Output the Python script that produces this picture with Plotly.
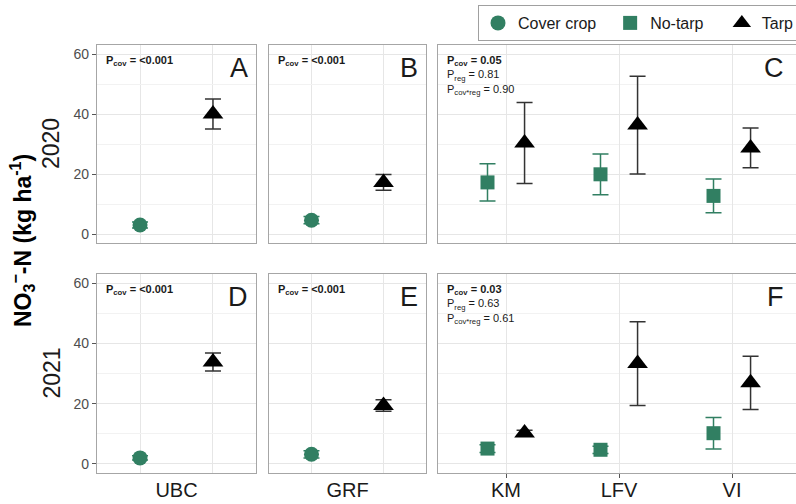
import plotly.graph_objects as go

# ---------------- data ----------------
single_sites = ["UBC", "GRF"]
regional_sites = ["KM", "LFV", "VI"]
years = ["2020", "2021"]
legend_names = ["Cover crop", "No-tarp", "Tarp"]

cover_2020 = [3.0, 4.6]
cover_2020_err = [1.0, 1.2]
tarp_single_2020 = [40.0, 17.2]
tarp_single_2020_err = [5.0, 2.6]

cover_2021 = [2.0, 3.2]
cover_2021_err = [0.7, 1.2]
tarp_single_2021 = [33.8, 19.4]
tarp_single_2021_err = [3.0, 1.9]

notarp_2020 = [17.2, 19.9, 12.7]
notarp_2020_err = [6.2, 6.8, 5.6]
tarp_reg_2020 = [30.3, 36.3, 28.7]
tarp_reg_2020_err = [13.5, 16.3, 6.6]

notarp_2021 = [5.1, 4.7, 10.2]
notarp_2021_err = [1.3, 1.2, 5.2]
tarp_reg_2021 = [10.3, 33.3, 26.9]
tarp_reg_2021_err = [0.9, 13.9, 8.8]

pvals_single = ["<b>P<sub>cov</sub> = &lt;0.001</b>"] * 4
pvals_regional = [
    "<b>P<sub>cov</sub> = 0.05</b><br>P<sub>reg</sub> = 0.81<br>P<sub>cov*reg</sub> = 0.90",
    "<b>P<sub>cov</sub> = 0.03</b><br>P<sub>reg</sub> = 0.63<br>P<sub>cov*reg</sub> = 0.61",
]
panel_letters = ["A", "B", "C", "D", "E", "F"]

# ---------------- style ----------------
GREEN = "#317f62"
TARP = "#000000"
TARP_ERR = "#333333"
FONT = "Liberation Sans, Arial, sans-serif"
W, H = 796, 504

def px(x):
    return x / W

def py(y):
    return 1 - y / H

# panel pixel boxes
xdom = [(97, 256), (269, 426), (438, 796)]
ydom = [(45, 243), (274, 473)]

# legend label padding (non-breaking spaces to widen entries)
legend_pad = {"Cover crop": "&nbsp;&nbsp;", "No-tarp": "&nbsp;&nbsp;&nbsp;", "Tarp": ""}

fig = go.Figure()

DODGE = 0.164

def add_err_trace(xref, yref, xs, ys, errs, name, symbol, color, errcolor, size, show):
    fig.add_trace(go.Scatter(
        x=xs, y=ys, mode="markers", name=name + legend_pad[name], legendgroup=name,
        showlegend=show, xaxis=xref, yaxis=yref,
        legendrank=legend_names.index(name) + 1,
        marker=dict(symbol=symbol, color=color, size=size, line=dict(width=0)),
        error_y=dict(type="data", array=errs, color=errcolor, thickness=1.5, width=8),
        hovertemplate=name + ": %{y}<extra></extra>",
    ))

axis_ids = {}
idx = 1
for r in range(2):
    for c in range(3):
        axis_ids[(r, c)] = idx
        idx += 1

def ax(i, kind):
    return kind if i == 1 else f"{kind}{i}"

cover_data = [(cover_2020, cover_2020_err), (cover_2021, cover_2021_err)]
tarp_single = [(tarp_single_2020, tarp_single_2020_err), (tarp_single_2021, tarp_single_2021_err)]
notarp_data = [(notarp_2020, notarp_2020_err), (notarp_2021, notarp_2021_err)]
tarp_reg = [(tarp_reg_2020, tarp_reg_2020_err), (tarp_reg_2021, tarp_reg_2021_err)]

for r in range(2):
    for c in range(2):
        i = axis_ids[(r, c)]
        xr, yr = ax(i, "x"), ax(i, "y")
        v, e = cover_data[r]
        add_err_trace(xr, yr, [0], [v[c]], [e[c]], "Cover crop", "circle", GREEN, GREEN, 15,
                      r == 0 and c == 0)
        v, e = tarp_single[r]
        add_err_trace(xr, yr, [1], [v[c]], [e[c]], "Tarp", "triangle-up", TARP, TARP_ERR, 18,
                      False)
    i = axis_ids[(r, 2)]
    xr, yr = ax(i, "x"), ax(i, "y")
    pos = list(range(1, len(regional_sites) + 1))
    v, e = notarp_data[r]
    add_err_trace(xr, yr, [p - DODGE for p in pos], v, e, "No-tarp", "square", GREEN, GREEN, 14,
                  r == 0)
    v, e = tarp_reg[r]
    add_err_trace(xr, yr, [p + DODGE for p in pos], v, e, "Tarp", "triangle-up", TARP, TARP_ERR, 18,
                  r == 0)

layout = dict(
    width=W, height=H,
    margin=dict(l=0, r=0, t=0, b=0, autoexpand=False),
    paper_bgcolor="white", plot_bgcolor="white",
    font=dict(family=FONT, color="#1a1a1a"),
    showlegend=True,
    legend=dict(orientation="h", x=px(478), xanchor="left", y=py(5), yanchor="top",
                bordercolor="#a0a0a0", borderwidth=1, font=dict(size=16, color="#1a1a1a"),
                bgcolor="white", itemwidth=30, tracegroupgap=0),
)

GRID = "#e6e6e6"
MINOR = "#f2f2f2"
BORDER = "#a6a6a6"

for r in range(2):
    for c in range(3):
        i = axis_ids[(r, c)]
        x0, x1 = xdom[c]
        y0, y1 = ydom[r]
        xa = dict(domain=[px(x0), min(px(x1), 1.0)], anchor=ax(i, "y"),
                  showline=True, mirror=True, linecolor=BORDER, linewidth=1.3,
                  zeroline=False, fixedrange=True, automargin=False,
                  tickfont=dict(size=20, color="#1a1a1a"))
        if c < 2:
            xa.update(range=[-0.59, 1.59], tickmode="array", tickvals=[0.5],
                      ticktext=[single_sites[c]] if r == 1 else [""],
                      showticklabels=(r == 1), showgrid=False, ticks="",
                      ticklabelstandoff=-1,
                      minor=dict(tickmode="array", tickvals=[0, 1], showgrid=True,
                                 gridcolor=GRID, gridwidth=1, ticks=""))
        else:
            xa.update(range=[0.398, 3.566], tickmode="array", tickvals=[1, 2, 3],
                      ticktext=regional_sites, showticklabels=(r == 1),
                      showgrid=True, gridcolor=GRID, gridwidth=1,
                      ticklabelstandoff=-5,
                      ticks="outside" if r == 1 else "", ticklen=4, tickcolor="#555555")
        ya = dict(domain=[py(y1), py(y0)], anchor=ax(i, "x"), range=[-3, 63],
                  showline=True, mirror=True, linecolor=BORDER, linewidth=1.3,
                  zeroline=False, fixedrange=True, automargin=False,
                  tickmode="array", tickvals=[0, 20, 40, 60],
                  showgrid=True, gridcolor=GRID, gridwidth=1,
                  minor=dict(tickmode="array", tickvals=[10, 30, 50], showgrid=True,
                             gridcolor=MINOR, gridwidth=1, ticks=""),
                  tickfont=dict(size=14, color="#4d4d4d"))
        if c == 0:
            ya.update(ticks="outside", ticklen=4, tickcolor="#555555", showticklabels=True)
        else:
            ya.update(ticks="", showticklabels=False)
        layout["xaxis" if i == 1 else f"xaxis{i}"] = xa
        layout["yaxis" if i == 1 else f"yaxis{i}"] = ya

annotations = []
for r in range(2):
    for c in range(3):
        x0, x1 = xdom[c]
        y0, y1 = ydom[r]
        text = pvals_single[r * 2 + c] if c < 2 else pvals_regional[r]
        annotations.append(dict(text=text, x=px(x0 + 7), y=py(y0 + 7), xref="paper", yref="paper",
                                xanchor="left", yanchor="top", align="left", showarrow=False,
                                font=dict(size=11, color="#1a1a1a")))
        letter = panel_letters[r * 3 + c]
        lx = (x1 - 6) if c < 2 else 786
        annotations.append(dict(text=letter, x=px(lx), y=py(y0 + 23), xref="paper", yref="paper",
                                xanchor="right", yanchor="middle", showarrow=False,
                                font=dict(size=27, color="#1a1a1a")))
for r in range(2):
    y0, y1 = ydom[r]
    annotations.append(dict(text=years[r], x=px(51), y=py((y0 + y1) / 2), xref="paper", yref="paper",
                            xanchor="center", yanchor="middle", textangle=-90, showarrow=False,
                            font=dict(size=23, color="#1a1a1a")))
annotations.append(dict(text="<b>NO<sub>3</sub><sup>−</sup>-N (kg ha<sup>-1</sup>)</b>",
                        x=px(22), y=py(241), xref="paper", yref="paper",
                        xanchor="center", yanchor="middle", textangle=-90, showarrow=False,
                        font=dict(size=23, color="#000000")))
layout["annotations"] = annotations

fig.update_layout(**layout)
fig.write_html("out.html", config={"displayModeBar": False})

# remove the browser's default body margin so the figure sits at the page origin
with open("out.html", "r", encoding="utf-8") as f:
    html = f.read()
html = html.replace("<body>", '<body style="margin:0;padding:0;overflow:hidden">', 1)
with open("out.html", "w", encoding="utf-8") as f:
    f.write(html)
